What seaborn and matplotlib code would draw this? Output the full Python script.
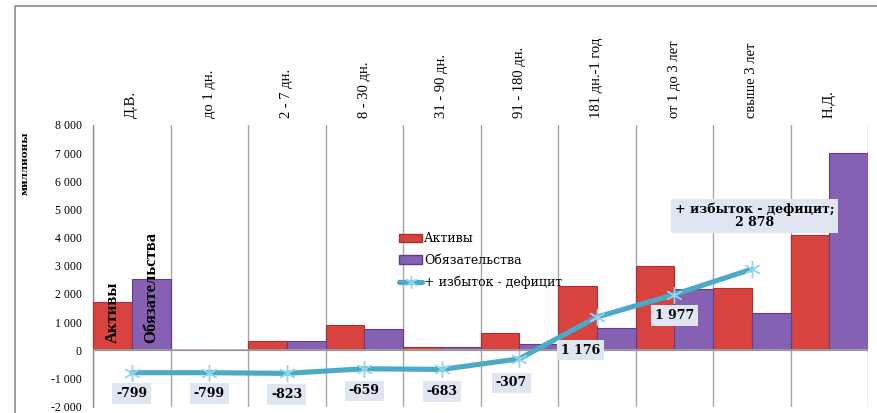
import numpy as np
import pandas as pd
import matplotlib
matplotlib.use("Agg")
import matplotlib.pyplot as plt
from matplotlib.ticker import FuncFormatter, FixedLocator
from matplotlib.patches import Rectangle
from matplotlib.lines import Line2D
import seaborn as sns

# ---- data ----
categories = ["Д.В.", "до 1 дн.", "2 - 7 дн.", "8 - 30 дн.", "31 - 90 дн.",
              "91 - 180 дн.", "181 дн.-1 год", "от 1 до 3 лет", "свыше 3 лет", "Н.Д."]
assets = [1720, 0, 320, 900, 100, 600, 2280, 2990, 2210, 4090]
liabilities = [2519, 0, 344, 736, 124, 224, 797, 2189, 1309, 7000]
gap_cum = [-799, -799, -823, -659, -683, -307, 1176, 1977, 2878]
gap_labels = ["-799", "-799", "-823", "-659", "-683", "-307", "1 176", "1 977",
              "+ избыток - дефицит;\n2 878"]
series_names = ["Активы", "Обязательства", "+ избыток - дефицит"]
y_axis_title = "миллионы"

RED = "#d8433f"
RED_EDGE = "#a8302e"
PURPLE = "#8660b2"
PURPLE_EDGE = "#5f3f86"
LINE = "#4aaac8"
STAR = "#93d5ea"
BOX = "#dfe6f2"
TIMES = ["Liberation Serif", "DejaVu Serif"]
WIDE = ["DejaVu Serif", "Liberation Serif"]

sns.set_style("white")
plt.rcParams["font.family"] = TIMES
plt.rcParams["text.color"] = "black"
plt.rcParams["xtick.labelcolor"] = "black"
plt.rcParams["ytick.labelcolor"] = "black"

W, H = 877, 413
fig = plt.figure(figsize=(W / 100, H / 100), dpi=100)
ax = fig.add_axes([93 / W, 1 - 406.5 / H, (868 - 93) / W, (406.5 - 125) / H])

df = pd.DataFrame({
    "cat": categories * 2,
    "val": assets + liabilities,
    "series": [series_names[0]] * len(categories) + [series_names[1]] * len(categories),
})
sns.barplot(data=df, x="cat", y="val", hue="series", order=categories,
            hue_order=series_names[:2], palette=[RED, PURPLE], width=1.0, gap=0,
            dodge=True, errorbar=None, ax=ax, legend=False, zorder=3,
            linewidth=0.8, saturation=1)
n = len(categories)
for i, p in enumerate(ax.patches):
    p.set_edgecolor(RED_EDGE if i < n else PURPLE_EDGE)

sns.lineplot(x=np.arange(len(gap_cum)), y=gap_cum, ax=ax, color=LINE, lw=3.7,
             marker=(6, 2, 0), markersize=12, markeredgecolor=STAR,
             markerfacecolor=STAR, markeredgewidth=1.0, zorder=5)

ax.set_xlim(-0.5, n - 0.5)
ax.set_ylim(-2000, 8000)

# gridlines at category boundaries
ax.xaxis.set_minor_locator(FixedLocator(np.arange(-0.5, n, 1.0)))
ax.grid(which="minor", axis="x", color="#a6a6a6", lw=1.0, zorder=0)
ax.grid(which="major", axis="both", visible=False)
ax.axhline(0, color="#a6a6a6", lw=1.2, zorder=4)

# category labels on top
ax.xaxis.tick_top()
ax.set_xticks(np.arange(n))
ax.set_xticklabels(categories, rotation=90, fontsize=10.5, family=TIMES, color="black")
ax.tick_params(axis="x", which="both", length=0, pad=5)
ax.set_xlabel("")

# y axis
ax.set_yticks(np.arange(-2000, 8001, 1000))
ax.yaxis.set_major_formatter(FuncFormatter(lambda v, _: f"{int(v):,}".replace(",", " ")))
ax.tick_params(axis="y", length=5, width=0.8, color="#8c8c8c", pad=3, labelsize=8.5,
               labelcolor="black")
ax.set_ylabel("")
for s in ["top", "right", "bottom"]:
    ax.spines[s].set_visible(False)
ax.spines["left"].set_color("#8c8c8c")
ax.spines["left"].set_linewidth(1.0)

fig.text(25 / W, 1 - 163 / H, y_axis_title, rotation=90, ha="center", va="center",
         fontsize=7.5, fontweight="bold", family=WIDE, color="black")

# series-name labels inside first category bars
for p, name in ((ax.patches[0], series_names[0]), (ax.patches[n], series_names[1])):
    ax.annotate(name, (p.get_x() + p.get_width() / 2, 0), xytext=(0, 5),
                textcoords="offset points", rotation=90, ha="center", va="bottom",
                fontsize=12, fontweight="bold", color="black", zorder=6, family=TIMES)

# line data labels (offsets in pixels: dx, dy)
offsets_px = [(0, -21), (0, -21), (0, -21), (0, -22), (0, -22), (-8, -24),
              (-16, -33), (0, -21), (3, 53)]
for i, (v, lab) in enumerate(zip(gap_cum, gap_labels)):
    dx, dy = offsets_px[i]
    ax.annotate(lab, (i, v), xytext=(dx * 0.72, dy * 0.72), textcoords="offset points",
                ha="center", va="center", fontsize=9, fontweight="bold", family=WIDE,
                color="black", linespacing=1.0, zorder=7,
                bbox=dict(boxstyle="square,pad=0.3", fc=BOX, ec="none"))

# legend
handles = [Rectangle((0, 0), 1, 1, fc=RED, ec=RED_EDGE),
           Rectangle((0, 0), 1, 1, fc=PURPLE, ec=PURPLE_EDGE),
           Line2D([], [], color=LINE, lw=3.7, marker=(6, 2, 0), markersize=9,
                  markeredgecolor=STAR, markerfacecolor=STAR)]
leg = fig.legend(handles, series_names, loc="upper left",
                 bbox_to_anchor=(393 / W, 1 - 226 / H), frameon=False,
                 prop={"family": WIDE, "size": 9}, labelcolor="black",
                 handlelength=1.8, handleheight=0.7, handletextpad=0.2,
                 labelspacing=0.7, borderpad=0.0)

# outer frame
fig.patches.append(Rectangle((15 / W, -0.2), 1.2, 1.2 - 6 / H + 0.0,
                             transform=fig.transFigure, fill=False,
                             ec="#8c8c8c", lw=1.2))

fig.savefig("out.png", dpi=100)
